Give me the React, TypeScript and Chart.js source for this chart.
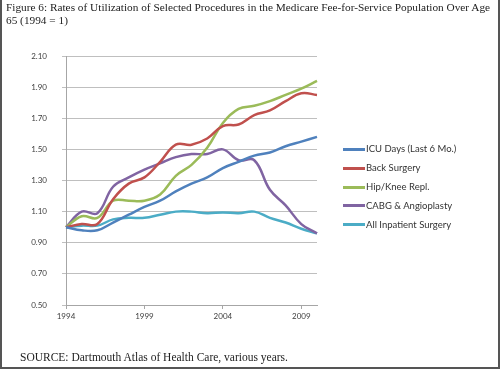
import React, { useEffect, useRef } from "react";
import { Chart, registerables } from "chart.js";

Chart.register(...registerables);

const years = ["1994","1995","1996","1997","1998","1999","2000","2001","2002","2003","2004","2005","2006","2007","2008","2009","2010"];
const xTickLabels = ["1994", "1999", "2004", "2009"];
const yTickValues = [0.5, 0.7, 0.9, 1.1, 1.3, 1.5, 1.7, 1.9, 2.1];

const icuDays = [1.00, 0.98, 0.98, 1.03, 1.08, 1.13, 1.17, 1.23, 1.28, 1.32, 1.38, 1.42, 1.46, 1.48, 1.52, 1.55, 1.58];
const backSurgery = [1.00, 1.02, 1.02, 1.18, 1.28, 1.32, 1.42, 1.53, 1.53, 1.57, 1.65, 1.66, 1.72, 1.75, 1.81, 1.86, 1.85];
const hipKnee = [1.00, 1.07, 1.06, 1.17, 1.17, 1.17, 1.21, 1.33, 1.40, 1.51, 1.67, 1.76, 1.78, 1.81, 1.85, 1.89, 1.94];
const cabg = [1.00, 1.10, 1.09, 1.26, 1.32, 1.37, 1.41, 1.45, 1.47, 1.47, 1.50, 1.43, 1.43, 1.24, 1.14, 1.02, 0.96];
const allInpatient = [1.00, 1.01, 1.01, 1.05, 1.06, 1.06, 1.08, 1.10, 1.10, 1.09, 1.095, 1.09, 1.10, 1.06, 1.03, 0.99, 0.96];

const seriesNames = ["ICU Days (Last 6 Mo.)", "Back Surgery", "Hip/Knee Repl.", "CABG & Angioplasty", "All Inpatient Surgery"];
const seriesValues = [icuDays, backSurgery, hipKnee, cabg, allInpatient];
const seriesColors = ["#4f81bd", "#c0504d", "#9bbb59", "#8064a2", "#4bacc6"];

const titleLine1 = "Figure 6: Rates of Utilization of Selected Procedures in the Medicare Fee-for-Service Population Over Age";
const titleLine2 = "65 (1994 = 1)";
const sourceText = "SOURCE: Dartmouth Atlas of Health Care, various years.";

export default function App() {
  const ref = useRef<HTMLCanvasElement | null>(null);

  useEffect(() => {
    if (!ref.current) return;
    const chart = new Chart(ref.current, {
      type: "line",
      data: {
        labels: years,
        datasets: seriesNames.map((name, i) => ({
          label: name,
          data: seriesValues[i],
          borderColor: seriesColors[i],
          backgroundColor: seriesColors[i],
          borderWidth: 2.5,
          pointRadius: 0,
          tension: 0.4,
          fill: false,
        })),
      },
      options: {
        responsive: false,
        animation: false,
        layout: { padding: { top: 56, right: 183, bottom: 0, left: 0 } },
        plugins: { legend: { display: false }, tooltip: { enabled: false }, title: { display: false } },
        scales: {
          x: {
            type: "category",
            offset: false,
            grid: {
              display: true,
              drawOnChartArea: false,
              drawTicks: true,
              tickLength: 4,
              color: (ctx: any) => (xTickLabels.includes(years[ctx.index]) ? "#a6a6a6" : "rgba(0,0,0,0)"),
            },
            border: { display: true, color: "#a6a6a6" },
            ticks: {
              autoSkip: false,
              maxRotation: 0,
              padding: 3,
              color: "#404040",
              font: { family: "Lato", size: 8 },
              callback: (_v: any, i: number) => (xTickLabels.includes(years[i]) ? years[i] : ""),
            },
            afterFit: (s: any) => { s.height = 64; },
          },
          y: {
            min: 0.5,
            max: 2.1,
            afterBuildTicks: (s: any) => { s.ticks = yTickValues.map((v) => ({ value: v })); },
            grid: { color: "#bfbfbf", tickLength: 4, lineWidth: 1 },
            border: { display: true, color: "#a6a6a6" },
            ticks: {
              padding: 15,
              color: "#404040",
              font: { family: "Lato", size: 8 },
              callback: (v: any) => Number(v).toFixed(2),
            },
            afterFit: (s: any) => { s.width = 66; },
          },
        },
      },
    });
    return () => chart.destroy();
  }, []);

  return (
    <div style={{ position: "fixed", left: 0, top: 0, width: 500, height: 369, background: "#fff", overflow: "hidden" }}>
      <canvas ref={ref} width={500} height={369} style={{ position: "absolute", left: 0, top: 0, width: 500, height: 369 }} />
      <div style={{ position: "absolute", left: 6, top: 1, fontFamily: "'Liberation Serif', serif", fontSize: 11.3, lineHeight: "12.7px", color: "#222", whiteSpace: "nowrap" }}>
        <div>{titleLine1}</div>
        <div>{titleLine2}</div>
      </div>
      {seriesNames.map((name, i) => {
        const cy = 149.3 + i * 18.85;
        return (
          <React.Fragment key={name}>
            <div style={{ position: "absolute", left: 343, top: cy - 1.5, width: 22, height: 3, background: seriesColors[i] }} />
            <div style={{ position: "absolute", left: 366, top: cy - 6, height: 12, lineHeight: "12px", fontFamily: "Lato, sans-serif", fontSize: 9.5, color: "#333", whiteSpace: "nowrap" }}>{name}</div>
          </React.Fragment>
        );
      })}
      <div style={{ position: "absolute", left: 20, top: 351, fontFamily: "'Liberation Serif', serif", fontSize: 11.5, lineHeight: "13px", color: "#222", whiteSpace: "nowrap" }}>{sourceText}</div>
      <div style={{ position: "absolute", left: 0, top: 0, width: 2, height: 369, background: "#555" }} />
      <div style={{ position: "absolute", right: 0, top: 0, width: 2, height: 369, background: "#555" }} />
      <div style={{ position: "absolute", left: 0, bottom: 0, width: 500, height: 2, background: "#555" }} />
    </div>
  );
}
